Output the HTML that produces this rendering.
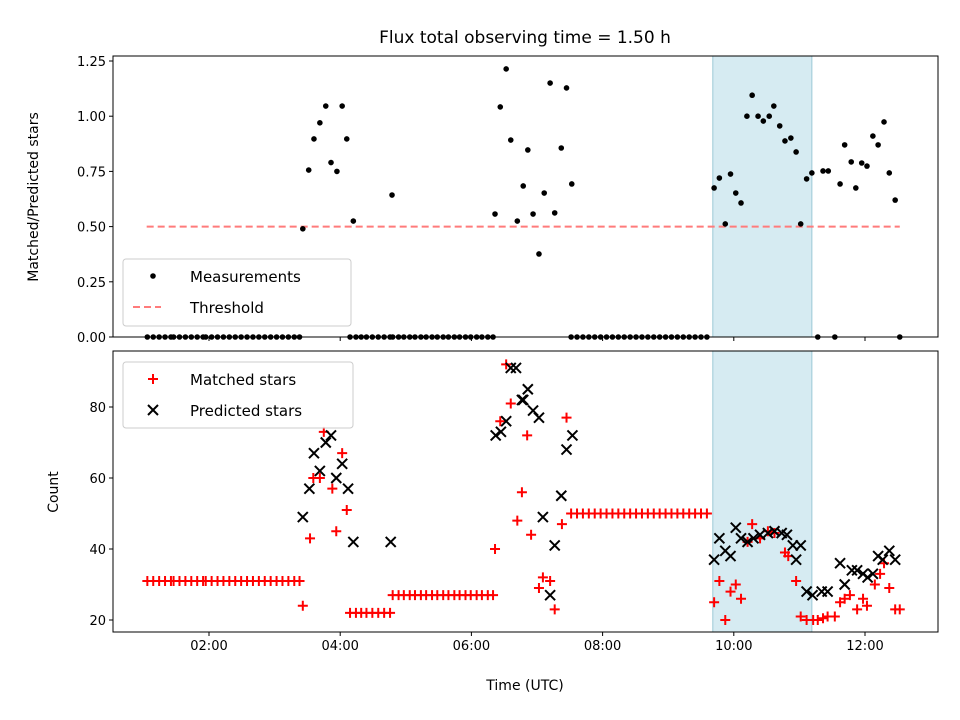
<!DOCTYPE html>
<html><head><meta charset="utf-8"><style>
html,body{margin:0;padding:0;background:#fff;}
svg{display:block;font-family:"DejaVu Sans","Liberation Sans",sans-serif;}
</style></head><body>
<svg id="chart" width="960" height="720" viewBox="0 0 960 720" xmlns="http://www.w3.org/2000/svg">
<rect width="960" height="720" fill="#fff"/>
<text x="525" y="43" font-size="17" text-anchor="middle">Flux total observing time = 1.50 h</text>
<g id="topPanel"></g><g id="botPanel"></g>
</svg>
<script>
const ratioTimes=[3.43,3.52,3.60,3.69,3.78,3.86,3.95,4.03,4.10,4.20,4.79,6.36,6.44,6.53,6.60,6.70,6.79,6.86,6.94,7.03,7.11,7.20,7.27,7.37,7.45,7.53,9.70,9.78,9.87,9.95,10.03,10.11,10.20,10.28,10.37,10.45,10.54,10.61,10.70,10.78,10.87,10.95,11.02,11.11,11.19,11.36,11.44,11.62,11.69,11.79,11.86,11.95,12.03,12.12,12.20,12.29,12.37,12.46];
const ratioValues=[0.49,0.756,0.897,0.97,1.046,0.79,0.75,1.046,0.897,0.525,0.643,0.557,1.042,1.214,0.892,0.525,0.684,0.847,0.557,0.376,0.652,1.15,0.562,0.856,1.128,0.693,0.675,0.72,0.512,0.738,0.652,0.607,1.0,1.095,1.0,0.978,1.0,1.046,0.956,0.888,0.901,0.838,0.512,0.716,0.743,0.752,0.752,0.693,0.87,0.793,0.675,0.788,0.774,0.91,0.87,0.974,0.743,0.62];
const segA=[1.06,1.15,1.24,1.33,1.42,1.46,1.55,1.64,1.73,1.82,1.91,1.95,2.04,2.13,2.22,2.31,2.40,2.49,2.58,2.67,2.76,2.85,2.94,3.03,3.12,3.21,3.30,3.38];
const seg22=[4.15,4.24,4.32,4.40,4.49,4.58,4.67,4.76];
const seg27=[4.80,4.89,4.97,5.06,5.14,5.23,5.31,5.40,5.48,5.57,5.65,5.74,5.82,5.91,5.99,6.08,6.16,6.25,6.33];
const seg50=[7.52,7.61,7.70,7.79,7.88,7.97,8.06,8.15,8.24,8.33,8.42,8.51,8.60,8.69,8.78,8.87,8.96,9.05,9.14,9.23,9.32,9.41,9.50,9.59];
const zeroExtra=[11.28,11.54,12.53];
const matchedTimes=[3.43,3.54,3.59,3.69,3.75,3.88,3.94,4.03,4.10,6.36,6.44,6.53,6.60,6.70,6.77,6.85,6.91,7.03,7.09,7.20,7.27,7.38,7.45,9.70,9.78,9.87,9.95,10.03,10.11,10.21,10.28,10.40,10.52,10.62,10.78,10.83,10.95,11.02,11.11,11.21,11.28,11.36,11.43,11.54,11.62,11.69,11.77,11.88,11.97,12.03,12.15,12.23,12.29,12.37,12.46,12.53];
const matchedValues=[24,43,60,60,73,57,45,67,51,40,76,92,81,48,56,72,44,29,32,31,23,47,77,25,31,20,28,30,26,42,47,43,45,44.5,39,38,31,21,20,20,20,20.5,21,21,25,26,27,23,26,24,30,33,36,29,23,23];
const predTimes=[3.43,3.53,3.60,3.69,3.78,3.86,3.94,4.03,4.12,4.20,4.77,6.37,6.45,6.53,6.60,6.68,6.77,6.79,6.86,6.94,7.03,7.09,7.20,7.27,7.37,7.45,7.54,9.70,9.78,9.87,9.95,10.03,10.11,10.21,10.30,10.40,10.52,10.62,10.73,10.81,10.90,10.95,11.02,11.11,11.20,11.34,11.43,11.62,11.69,11.80,11.88,11.97,12.04,12.12,12.20,12.27,12.37,12.46];
const predValues=[49,57,67,62,70,72,60,64,57,42,42,72,73,76,91,91,82,82,85,79,77,49,27,41,55,68,72,37,43,39.5,38,46,43,42,43,44,44.5,45,44.5,44,41,37,41,28,27,28,28,36,30,34,34,33,32,33,38,37,39.5,37];
const xTickHours=[2,4,6,8,10,12];
const xTickLabels=["02:00","04:00","06:00","08:00","10:00","12:00"];
const topTicks=[0,0.25,0.5,0.75,1.0,1.25];
const topTickLabels=["0.00","0.25","0.50","0.75","1.00","1.25"];
const botTicks=[20,40,60,80];
const threshold=0.5, thrStart=1.05, thrEnd=12.53;
const spanStart=9.68, spanEnd=11.19;

const NS="http://www.w3.org/2000/svg";
const L=113,R=938,T1=56,B1=337,T2=351,B2=632;
const xS=t=>209+(t-2)*65.6;
const yTop=v=>337-v*220.8;
const yBot=v=>620-(v-20)*3.55;
function mk(parent,tag,attrs){const e=document.createElementNS(NS,tag);for(const k in attrs)e.setAttribute(k,attrs[k]);parent.appendChild(e);return e;}
const topG=document.getElementById('topPanel'),botG=document.getElementById('botPanel');

function frame(g,T,B,pre){
  let sp=mk(g,'rect',{x:xS(spanStart),y:T,width:xS(spanEnd)-xS(spanStart),height:B-T,fill:'#add8e6','fill-opacity':0.5,stroke:'#9cc9d6'});
  
  
}
frame(topG,T1,B1,'top');frame(botG,T2,B2,'bottom');

let th=mk(topG,'line',{x1:xS(thrStart),x2:xS(thrEnd),y1:yTop(threshold),y2:yTop(threshold),stroke:'#ff7b7b','stroke-width':2,'stroke-dasharray':'7,4'});



function dot(t,v){let c=mk(topG,'circle',{cx:xS(t),cy:yTop(v),r:2.8,fill:'#000'});

}
ratioTimes.forEach((t,i)=>dot(t,ratioValues[i]));
[segA,seg22,seg27,seg50,zeroExtra].forEach(a=>a.forEach(t=>dot(t,0)));

function plus(t,v){const x=xS(t),y=yBot(v);let p=mk(botG,'path',{d:`M${x-5},${y}H${x+5}M${x},${y-5}V${y+5}`,stroke:'#ff0000','stroke-width':2,fill:'none'});

}
function cross(t,v){const x=xS(t),y=yBot(v);let p=mk(botG,'path',{d:`M${x-5},${y-5}L${x+5},${y+5}M${x-5},${y+5}L${x+5},${y-5}`,stroke:'#000','stroke-width':2,fill:'none'});

}
segA.forEach(t=>plus(t,31));seg22.forEach(t=>plus(t,22));seg27.forEach(t=>plus(t,27));seg50.forEach(t=>plus(t,50));
matchedTimes.forEach((t,i)=>plus(t,matchedValues[i]));
predTimes.forEach((t,i)=>cross(t,predValues[i]));

function axes(g,T,B,pre,labels){
  let fr=mk(g,'rect',{x:L,y:T,width:R-L,height:B-T,fill:'none',stroke:'#000','stroke-width':1});
  
  
  xTickHours.forEach((h,i)=>{mk(g,'line',{x1:xS(h),x2:xS(h),y1:B,y2:B+4,stroke:'#000'});
    if(labels){let tx=mk(g,'text',{x:xS(h),y:B+18,'font-size':13,'text-anchor':'middle'});tx.textContent=xTickLabels[i];
    
    }});
}
axes(topG,T1,B1,'top',false);axes(botG,T2,B2,'bottom',true);
topTicks.forEach((v,i)=>{mk(topG,'line',{x1:L-4,x2:L,y1:yTop(v),y2:yTop(v),stroke:'#000'});
  let tx=mk(topG,'text',{x:L-7,y:yTop(v)+5,'font-size':13,'text-anchor':'end'});tx.textContent=topTickLabels[i];
  
  });
botTicks.forEach(v=>{mk(botG,'line',{x1:L-4,x2:L,y1:yBot(v),y2:yBot(v),stroke:'#000'});
  let tx=mk(botG,'text',{x:L-7,y:yBot(v)+5,'font-size':13,'text-anchor':'end'});tx.textContent=String(v);
  
  });

function label(g,txt,x,y,rot,name){let t=mk(g,'text',{x:x,y:y,'font-size':14,'text-anchor':'middle'});if(rot)t.setAttribute('transform',`rotate(-90 ${x} ${y})`);t.textContent=txt;

}
label(topG,'Matched/Predicted stars',38,197,true,'top-y-axis-title');
label(botG,'Count',58,492,true,'bottom-y-axis-title');
label(botG,'Time (UTC)',525,690,false,'x-axis-title');

function legend(g,x,y,w,h,items,name){
  let lg=mk(g,'g',{});
  
  
  mk(lg,'rect',{x:x,y:y,width:w,height:h,rx:3,fill:'#fff','fill-opacity':0.8,stroke:'#ccc'});
  items.forEach((it,i)=>{const cy=y+17+i*31;it.draw(lg,x+30,cy);
    let t=mk(lg,'text',{x:x+67,y:cy+6,'font-size':15});t.textContent=it.label;
    
    });
}
legend(topG,123,259,228,67,[
 {label:'Measurements',draw:(g,x,y)=>mk(g,'circle',{cx:x,cy:y,r:2.8,fill:'#000'})},
 {label:'Threshold',draw:(g,x,y)=>mk(g,'line',{x1:x-20,x2:x+8,y1:y,y2:y,stroke:'#ff7b7b','stroke-width':2,'stroke-dasharray':'7,4'})}
],'top-legend');
legend(botG,123,362,230,66,[
 {label:'Matched stars',draw:(g,x,y)=>mk(g,'path',{d:`M${x-5},${y}H${x+5}M${x},${y-5}V${y+5}`,stroke:'#f00','stroke-width':2})},
 {label:'Predicted stars',draw:(g,x,y)=>mk(g,'path',{d:`M${x-5},${y-5}L${x+5},${y+5}M${x-5},${y+5}L${x+5},${y-5}`,stroke:'#000','stroke-width':2})}
],'bottom-legend');
</script>
</body></html>
